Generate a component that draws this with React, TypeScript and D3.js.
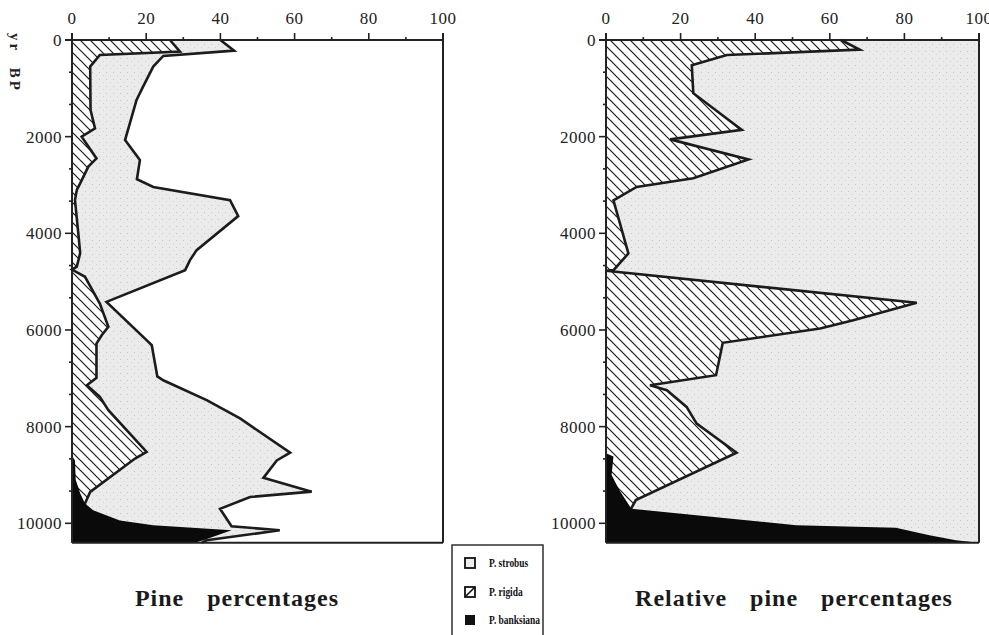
import React, { useEffect, useRef } from 'react';
import * as d3 from 'd3';

// Pine percentages (absolute). Outer curve = P. strobus + P. rigida + P. banksiana
const pineTotalAge = [0, 220, 330, 550, 960, 1240, 2070, 2350, 2485, 2880, 3040, 3313, 3644, 4348, 4555, 4762, 5418, 6211, 6315, 6960, 7040, 7450, 7830, 8540, 8700, 9060, 9345, 9455, 9700, 10060, 10145, 10352, 10400];
const pineTotalPct = [40, 43.7, 24.6, 21.9, 19.2, 17.4, 14.3, 17, 18.3, 17.5, 21.9, 42.6, 44.8, 33.6, 31.8, 30.5, 9.3, 20.1, 21.5, 23, 24.6, 36.3, 45.3, 58.8, 55.2, 51.6, 64.6, 48, 39.9, 43, 56, 36.3, 35];

// P. rigida + P. banksiana (hatched boundary)
const pineRigidaAge = [0, 240, 310, 550, 1450, 1830, 2000, 2450, 2620, 2966, 3100, 3313, 4000, 4410, 4690, 4750, 4900, 5452, 5935, 6108, 6280, 6990, 7143, 7385, 7660, 8524, 8660, 9350, 9590, 9700, 10400];
const pineRigidaPct = [26.4, 29.1, 7.5, 4.9, 5, 6.2, 2.6, 6.6, 4.4, 2.2, 1.3, 0.8, 1.7, 2.2, 1.3, 0, 3.5, 7.5, 9.8, 8, 6.6, 6.6, 4, 7.5, 9.8, 20.1, 17, 4.9, 3.5, 3.5, 0];

// P. banksiana
const pineBanksAge = [8600, 8700, 9100, 9380, 9590, 9730, 9940, 10040, 10145, 10352, 10400];
const pineBanksPct = [0, 0.8, 1, 2.2, 3.5, 5.7, 12.9, 21.9, 43, 35.4, 33];

// Relative pine percentages: P. rigida + P. banksiana
const relRigidaAge = [0, 200, 310, 520, 1100, 1860, 2056, 2470, 2860, 3040, 3320, 4417, 4762, 4775, 5438, 5797, 5969, 6266, 6936, 7143, 7246, 7592, 7937, 8540, 9520, 9700, 10400];
const relRigidaPct = [63, 68, 32.4, 23, 23.4, 36.4, 17.2, 38.2, 23.4, 8.2, 2, 6, 2, 0, 83.3, 66.3, 57.4, 31.3, 29.5, 11.8, 16.3, 21.6, 24.3, 35, 8, 6.7, 0];

// Relative: P. banksiana
const relBanksAge = [8550, 8620, 9000, 9317, 9697, 10041, 10090, 10248, 10352, 10400];
const relBanksPct = [0, 2, 1.5, 3.6, 6.8, 51, 77.7, 86.7, 93.8, 100];

const pctTicks = [0, 20, 40, 60, 80, 100];
const pctMinor = [10, 30, 50, 70, 90];
const ageTicks = [0, 2000, 4000, 6000, 8000, 10000];
const legendLabels = ['P. strobus', 'P. rigida', 'P. banksiana'];
const titles = ['Pine percentages', 'Relative pine percentages'];

const BOTTOM_AGE = 10400;
const SERIF = "'Liberation Serif', 'Times New Roman', serif";

const zip = (a: number[], b: number[]) => a.map((v, i) => [v, b[i]] as [number, number]);

const App: React.FC = () => {
  const svgRef = useRef<SVGSVGElement | null>(null);

  useEffect(() => {
    if (!svgRef.current) return;
    const svg = d3.select(svgRef.current);
    svg.selectAll('*').remove();

    // patterns
    const defs = svg.append('defs');
    const hatch = defs.append('pattern')
      .attr('id', 'hatch')
      .attr('patternUnits', 'userSpaceOnUse')
      .attr('width', 10)
      .attr('height', 10);
    hatch.append('rect').attr('width', 10).attr('height', 10).attr('fill', '#fff');
    hatch.append('path')
      .attr('d', 'M0,0L10,10M-5,5L5,15M5,-5L15,5')
      .attr('stroke', '#1a1a1a')
      .attr('stroke-width', 1.2);

    const stipple = defs.append('pattern')
      .attr('id', 'stipple')
      .attr('patternUnits', 'userSpaceOnUse')
      .attr('width', 7)
      .attr('height', 7);
    stipple.append('rect').attr('width', 7).attr('height', 7).attr('fill', '#ebebeb');
    stipple.append('rect').attr('x', 1).attr('y', 2).attr('width', 1).attr('height', 1).attr('fill', '#c4c4c4');
    stipple.append('rect').attr('x', 5).attr('y', 5).attr('width', 1).attr('height', 1).attr('fill', '#d2d2d2');

    const y = d3.scaleLinear().domain([0, 10000]).range([40, 523.3]);
    const yBottom = y(BOTTOM_AGE);

    const drawPanel = (
      left: number,
      right: number,
      total: [number, number][] | null,
      rigida: [number, number][],
      banks: [number, number][],
      title: string,
      titleX: number
    ) => {
      const x = d3.scaleLinear().domain([0, 100]).range([left, right]);
      const g = svg.append('g');

      const area = d3.area<[number, number]>()
        .y(d => y(d[0]))
        .x0(x(0))
        .x1(d => x(d[1]));
      const line = d3.line<[number, number]>()
        .x(d => x(d[1]))
        .y(d => y(d[0]));

      // P. strobus (grey stipple)
      if (total) {
        g.append('path').attr('d', area(total) as string).attr('fill', 'url(#stipple)');
      } else {
        g.append('rect')
          .attr('x', x(0)).attr('y', y(0))
          .attr('width', x(100) - x(0)).attr('height', yBottom - y(0))
          .attr('fill', 'url(#stipple)');
      }
      // P. rigida (hatched)
      g.append('path').attr('d', area(rigida) as string).attr('fill', 'url(#hatch)');

      if (total) {
        g.append('path').attr('d', line(total) as string)
          .attr('fill', 'none').attr('stroke', '#1c1c1c').attr('stroke-width', 2.6)
          .attr('stroke-linejoin', 'miter');
      }
      g.append('path').attr('d', line(rigida) as string)
        .attr('fill', 'none').attr('stroke', '#1c1c1c').attr('stroke-width', 2.6)
        .attr('stroke-linejoin', 'miter');

      // P. banksiana (black)
      g.append('path').attr('d', area(banks) as string).attr('fill', '#0a0a0a');

      // frame
      const frame = g.append('g').attr('stroke', '#222').attr('stroke-width', 2).attr('fill', 'none');
      frame.append('line').attr('x1', x(0) - 7).attr('x2', x(100)).attr('y1', y(0)).attr('y2', y(0));
      frame.append('line').attr('x1', x(0)).attr('x2', x(0)).attr('y1', y(0) - 7).attr('y2', yBottom);
      frame.append('line').attr('x1', x(100)).attr('x2', x(100)).attr('y1', y(0) - 7).attr('y2', yBottom);
      frame.append('line').attr('x1', x(0)).attr('x2', x(100)).attr('y1', yBottom).attr('y2', yBottom);

      // top axis ticks
      frame.selectAll('.tmaj').data(pctTicks).join('line')
        .attr('x1', d => x(d)).attr('x2', d => x(d))
        .attr('y1', y(0)).attr('y2', y(0) - 7).attr('stroke-width', 1.6);
      frame.selectAll('.tmin').data(pctMinor).join('line')
        .attr('x1', d => x(d)).attr('x2', d => x(d))
        .attr('y1', y(0)).attr('y2', y(0) - 3).attr('stroke-width', 1.6);

      g.selectAll('.tlab').data(pctTicks).join('text')
        .attr('x', d => x(d))
        .attr('y', 24)
        .attr('text-anchor', 'middle')
        .style('font-family', SERIF)
        .style('font-size', '17px')
        .style('letter-spacing', '0.5px')
        .attr('fill', '#222')
        .text(d => String(d));

      // left axis ticks
      const minorAges = d3.range(0, BOTTOM_AGE, 2000 / 3).filter((_, i) => i % 3 !== 0);
      frame.selectAll('.ymaj').data(ageTicks).join('line')
        .attr('x1', x(0) - 7).attr('x2', x(0))
        .attr('y1', d => y(d)).attr('y2', d => y(d)).attr('stroke-width', 1.6);
      frame.selectAll('.ymin').data(minorAges).join('line')
        .attr('x1', x(0) - 3).attr('x2', x(0))
        .attr('y1', d => y(d)).attr('y2', d => y(d)).attr('stroke-width', 1.6);

      g.selectAll('.ylab').data(ageTicks).join('text')
        .attr('x', x(0) - 10)
        .attr('y', d => y(d))
        .attr('dy', '0.35em')
        .attr('text-anchor', 'end')
        .style('font-family', SERIF)
        .style('font-size', '17px')
        .style('letter-spacing', '0.5px')
        .attr('fill', '#222')
        .text(d => String(d));

      // title
      g.append('text')
        .attr('x', titleX)
        .attr('y', 606)
        .attr('text-anchor', 'middle')
        .style('font-family', SERIF)
        .style('font-weight', 'bold')
        .style('font-size', '24px')
        .style('letter-spacing', '1px')
        .style('word-spacing', '16px')
        .attr('fill', '#1a1a1a')
        .text(title);
    };

    drawPanel(72, 443, zip(pineTotalAge, pineTotalPct), zip(pineRigidaAge, pineRigidaPct), zip(pineBanksAge, pineBanksPct), titles[0], 237);
    drawPanel(606, 979, null, zip(relRigidaAge, relRigidaPct), zip(relBanksAge, relBanksPct), titles[1], 794);

    // y axis title
    svg.append('text')
      .attr('transform', 'translate(10,33) rotate(90)')
      .style('font-family', SERIF)
      .style('font-weight', 'bold')
      .style('font-size', '15px')
      .style('letter-spacing', '3px')
      .style('word-spacing', '8px')
      .attr('fill', '#222')
      .text('yr BP');

    // legend
    const lg = svg.append('g');
    lg.append('rect')
      .attr('x', 452).attr('y', 545).attr('width', 91).attr('height', 110)
      .attr('fill', '#fff').attr('stroke', '#222').attr('stroke-width', 1.4);
    const rowY = [563, 592, 620];
    legendLabels.forEach((label, i) => {
      const sx = 465;
      const sy = rowY[i] - 5;
      if (i === 0) {
        lg.append('rect').attr('x', sx).attr('y', sy).attr('width', 10).attr('height', 10)
          .attr('fill', '#eee').attr('stroke', '#111').attr('stroke-width', 1.8);
      } else if (i === 1) {
        lg.append('rect').attr('x', sx).attr('y', sy).attr('width', 10).attr('height', 10)
          .attr('fill', '#fff').attr('stroke', '#111').attr('stroke-width', 1.8);
        lg.append('line').attr('x1', sx).attr('y1', sy + 10).attr('x2', sx + 10).attr('y2', sy)
          .attr('stroke', '#111').attr('stroke-width', 1.6);
      } else {
        lg.append('rect').attr('x', sx).attr('y', sy).attr('width', 10).attr('height', 10)
          .attr('fill', '#111');
      }
      lg.append('text')
        .attr('transform', `translate(489,${rowY[i] + 4}) scale(0.82,1)`)
        .style('font-family', SERIF)
        .style('font-weight', 'bold')
        .style('font-size', '11.5px')
        .attr('fill', '#111')
        .text(label);
    });
  }, []);

  return (
    <svg
      ref={svgRef}
      width={989}
      height={635}
      style={{ position: 'absolute', left: 0, top: 0, display: 'block', background: '#fff' }}
    />
  );
};

export default App;
